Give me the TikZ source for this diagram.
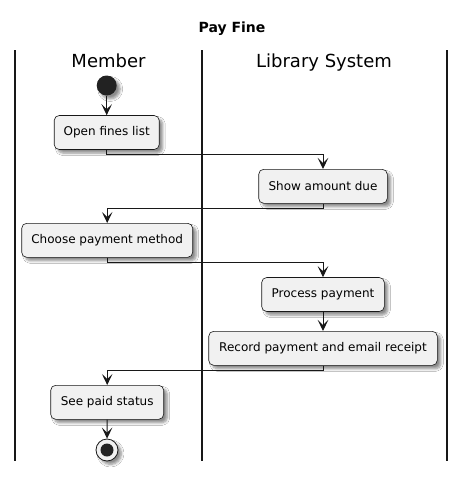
\documentclass[tikz,border=0pt]{standalone}
\usepackage{fontspec}
\setmainfont{DejaVu Sans}
\usetikzlibrary{arrows.meta,shadows,shadows.blur,positioning}
\definecolor{boxfill}{HTML}{F1F1F1}
\definecolor{ink}{HTML}{181818}
\definecolor{dot}{HTML}{222222}
\tikzset{
  x=1pt,y=-1pt,
  dropshade/.style={blur shadow={shadow xshift=3.5pt,shadow yshift=-3.5pt,shadow blur steps=6,shadow opacity=45,shadow blur radius=2.5pt}},
  action/.style={draw=ink,line width=0.6pt,fill=boxfill,rounded corners=5pt,minimum height=34pt,inner xsep=0pt,font=\fontsize{12}{14}\selectfont,dropshade},
  flow/.style={draw=ink,line width=1pt,-{Stealth[length=11pt,width=10.5pt,inset=5pt]}},
  lane/.style={draw=ink,line width=1.3pt},
  lanetitle/.style={font=\fontsize{18}{21}\selectfont,inner sep=0pt,anchor=base},
}
\begin{document}
\begin{tikzpicture}
\useasboundingbox (0,0) rectangle (466,477);
\fill[white] (0,0) rectangle (466,477);
% title
\node[font=\bfseries\fontsize{14}{16}\selectfont,inner sep=0pt,anchor=base] (title) at (232,32.5) {Pay Fine};
% lanes
\coordinate (l1t) at (15,50); \coordinate (l1b) at (15,461);
\coordinate (l2t) at (202,50); \coordinate (l2b) at (202,461);
\coordinate (l3t) at (447,50); \coordinate (l3b) at (447,461);
\draw[lane] (l1t) -- (l1b);
\draw[lane] (l2t) -- (l2b);
\draw[lane] (l3t) -- (l3b);
\node[lanetitle] (member) at (108.5,67) {Member};
\node[lanetitle] (libsys) at (324,67) {Library System};
% start
\node[circle,fill=dot,minimum size=20pt,inner sep=0pt,dropshade] (start) at (106.7,85.5) {};
% actions
\node[action,minimum width=105pt] (open) at (106.7,132.5) {Open fines list};
\node[action,minimum width=128.6pt] (show) at (323,186.3) {Show amount due};
\node[action,minimum width=171pt] (choose) at (107.2,240.3) {Choose payment method};
\node[action,minimum width=122.6pt] (process) at (323,294.5) {Process payment};
\node[action,minimum width=228.6pt] (record) at (323,348.3) {Record payment and email receipt};
\node[action,minimum width=113pt] (see) at (107.2,402.3) {See paid status};
% end
\node[circle,draw=ink,line width=0.8pt,fill=boxfill,minimum size=22pt,inner sep=0pt,dropshade] (stop) at (107,450) {};
\node[circle,fill=dot,minimum size=13pt,inner sep=0pt] (stopdot) at (stop.center) {};
% flows
\draw[flow] (start) -- (open);
\draw[flow] (open.south) -- ++(0,5) -| (show.north);
\draw[flow] (show.south) -- ++(0,5) -| (choose.north);
\draw[flow] (choose.south) -- ++(0,5) -| (process.north);
\draw[flow] (process) -- (record);
\draw[flow] (record.south) -- ++(0,5) -| (see.north);
\draw[flow] (see) -- (stop);
\end{tikzpicture}
\end{document}
